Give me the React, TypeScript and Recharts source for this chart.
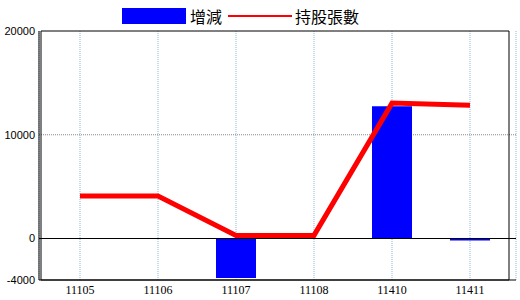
import React from 'react';
import { ComposedChart, Bar, Line, XAxis, YAxis, CartesianGrid, ReferenceLine, ReferenceArea, Legend } from 'recharts';

const categories = ['11105', '11106', '11107', '11108', '11410', '11411'];
const changeValues = [0, 0, -3800, 0, 12750, -200];
const holdingValues = [4100, 4100, 300, 300, 13050, 12850];
const yTicks = [-4000, 0, 10000, 20000];

const data = categories.map((c, i) => ({ name: c, change: changeValues[i], holding: holdingValues[i] }));

const serif = '"Liberation Serif", "Times New Roman", serif';
const sans = '"Liberation Sans", Arial, sans-serif';

const LegendContent = () => (
  <div style={{ display: 'flex', alignItems: 'center', fontFamily: '"Noto Sans CJK TC", sans-serif', fontSize: 16, color: '#000', height: 16 }}>
    <div style={{ width: 64, height: 16, background: '#0000ff', marginLeft: 122 }} />
    <span style={{ marginLeft: 4, lineHeight: '16px' }}>增減</span>
    <div style={{ width: 64, height: 2, background: '#ff0000', marginLeft: 6 }} />
    <span style={{ marginLeft: 3, lineHeight: '16px' }}>持股張數</span>
  </div>
);

export default function App() {
  return (
    <div style={{ position: 'absolute', left: 0, top: 0, width: 520, height: 300, background: '#fff' }}>
      <ComposedChart width={520} height={300} data={data} margin={{ top: 31, right: 4, bottom: 0, left: 0 }}>
        <CartesianGrid horizontal={false} stroke="#8fb9d6" strokeDasharray="1 1" />
        <CartesianGrid vertical={false} horizontalValues={[10000]} stroke="#888888" strokeDasharray="1 1" />
        <XAxis
          dataKey="name"
          tickLine={false}
          tickSize={2}
          tickMargin={3}
          padding={{ left: 2, right: 7 }}
          axisLine={{ stroke: '#000' }}
          height={20}
          tick={{ fill: '#000', fontSize: 12, fontFamily: serif, style: { fontFamily: serif } }}
          interval={0}
        />
        <YAxis
          domain={[-4000, 20000]}
          ticks={yTicks}
          width={39}
          tickLine={false}
          tickSize={2}
          tickMargin={2}
          axisLine={{ stroke: '#000' }}
          tick={{ fill: '#000', fontSize: 11, fontFamily: sans, style: { fontFamily: sans } }}
          allowDataOverflow
        />
        <ReferenceArea y1={-4000} y2={20000} fill="none" stroke="#000" strokeWidth={1} ifOverflow="visible" />
        <ReferenceLine y={0} stroke="#000" strokeWidth={1} />
        <Bar dataKey="change" fill="#0000ff" barSize={40} isAnimationActive={false} />
        <Line dataKey="holding" type="linear" stroke="#ff0000" strokeWidth={5} dot={false} activeDot={false} isAnimationActive={false} />
        <Legend verticalAlign="middle" align="center" layout="horizontal" wrapperStyle={{ top: 8, left: 0, width: 520 }} content={<LegendContent />} />
      </ComposedChart>
    </div>
  );
}
